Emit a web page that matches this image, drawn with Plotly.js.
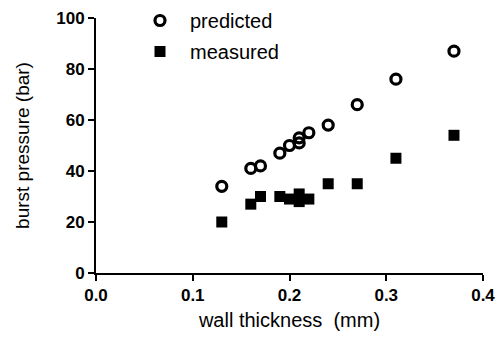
<!DOCTYPE html>
<html>
<head>
<meta charset="utf-8">
<script src="https://cdn.plot.ly/plotly-3.0.1.min.js"></script>
<style>html,body{margin:0;padding:0;background:#fff;}#chart{width:500px;height:338px;}</style>
</head>
<body>
<div id="chart"></div>
<script>
const predictedThickness = [0.13, 0.16, 0.17, 0.19, 0.20, 0.21, 0.21, 0.22, 0.24, 0.27, 0.31, 0.37];
const predictedPressure  = [34, 41, 42, 47, 50, 51, 53, 55, 58, 66, 76, 87];
const measuredThickness  = [0.13, 0.16, 0.17, 0.19, 0.20, 0.21, 0.21, 0.22, 0.24, 0.27, 0.31, 0.37];
const measuredPressure   = [20, 27, 30, 30, 29, 31, 28, 29, 35, 35, 45, 54];
const xTicks = [0.0, 0.1, 0.2, 0.3, 0.4];
const xTickLabels = ['0.0', '0.1', '0.2', '0.3', '0.4'];
const yTicks = [0, 20, 40, 60, 80, 100];

const fam = 'Liberation Sans, Arial, sans-serif';
const traces = [
  {x: predictedThickness, y: predictedPressure, name: 'predicted', type: 'scatter', mode: 'markers',
   legendgroup: 'a', cliponaxis: false,
   marker: {symbol: 'circle-open', size: 10, color: '#000', line: {width: 3.2, color: '#000'}}},
  {x: measuredThickness, y: measuredPressure, name: 'measured', type: 'scatter', mode: 'markers',
   legendgroup: 'b', cliponaxis: false,
   marker: {symbol: 'square', size: 11, color: '#000'}}
];
const layout = {
  width: 500, height: 338,
  margin: {l: 96, r: 17, t: 18, b: 65, autoexpand: false},
  paper_bgcolor: '#fff', plot_bgcolor: '#fff',
  showlegend: true,
  legend: {x: (130 - 96) / 387, y: (273 - 1) / 255, xanchor: 'left', yanchor: 'top',
           traceorder: 'grouped', tracegroupgap: 2, itemwidth: 50,
           font: {family: fam, size: 20, color: '#000'}, bgcolor: 'rgba(0,0,0,0)'},
  xaxis: {range: [0, 0.4], tickvals: xTicks, ticktext: xTickLabels, showgrid: false, zeroline: false,
          showline: true, linecolor: '#000', linewidth: 2, ticks: 'outside', ticklen: 6, tickwidth: 2, tickcolor: '#000',
          tickfont: {family: fam, size: 17, color: '#000', weight: 'bold'},
          title: {text: 'wall thickness  (mm)', font: {family: fam, size: 20, color: '#000'}, standoff: 9}},
  yaxis: {range: [0, 100], tickvals: yTicks, showgrid: false, zeroline: false,
          showline: true, linecolor: '#000', linewidth: 2, ticks: 'outside', ticklen: 6, tickwidth: 2, tickcolor: '#000',
          tickfont: {family: fam, size: 17, color: '#000', weight: 'bold'},
          title: {text: 'burst pressure (bar)', font: {family: fam, size: 19, color: '#000'}, standoff: 22}}
};
Plotly.newPlot('chart', traces, layout, {displayModeBar: false, staticPlot: true});
</script>
</body>
</html>
